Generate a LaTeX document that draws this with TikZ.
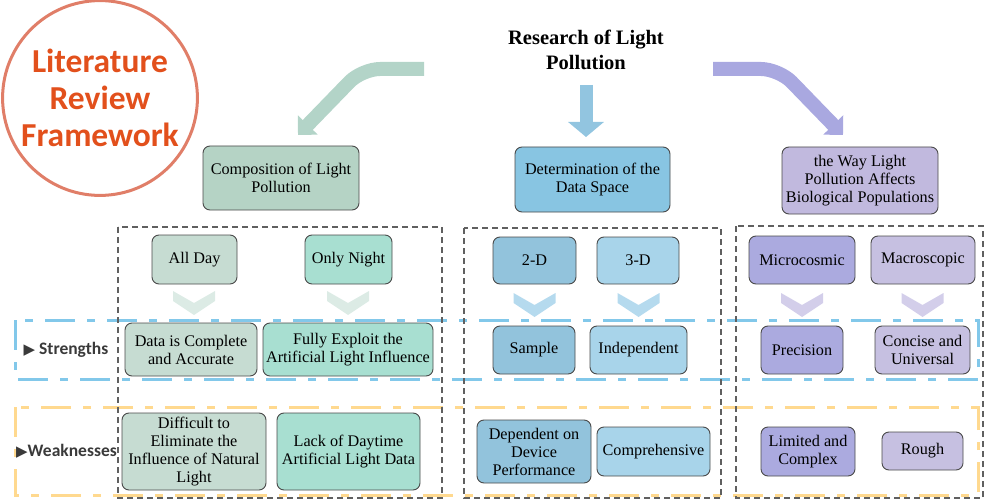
\documentclass[tikz,border=0pt]{standalone}
\usepackage{fontspec}
\setmainfont{Liberation Serif}
\newfontfamily\carl{Carlito}
\newfontfamily\djv{DejaVu Sans}
\usetikzlibrary{arrows.meta}
\definecolor{boxline}{HTML}{4A4A4A}
\definecolor{dashgray}{HTML}{606060}
\definecolor{circline}{HTML}{E07E68}
\definecolor{circtext}{HTML}{E2501C}
\definecolor{bandblue}{HTML}{82C8EA}
\definecolor{bandorange}{HTML}{FFD98F}
\definecolor{arrgreen}{HTML}{B3D4C8}
\definecolor{arrblue}{HTML}{92C5E0}
\definecolor{arrpurple}{HTML}{A9A8E0}
\definecolor{compfill}{HTML}{B5D3C5}
\definecolor{sage}{HTML}{C6DCD2}
\definecolor{mint}{HTML}{A8DFD1}
\definecolor{detfill}{HTML}{88C5E2}
\definecolor{blueA}{HTML}{92C3DC}
\definecolor{blueB}{HTML}{A8D4EA}
\definecolor{wayfill}{HTML}{C1B9DE}
\definecolor{purA}{HTML}{ABAADF}
\definecolor{purB}{HTML}{C6C0E1}
\definecolor{chevgreen}{HTML}{DCEBE5}
\definecolor{chevblue}{HTML}{B5DAEE}
\definecolor{chevpurple}{HTML}{D3CEEA}
\definecolor{labeltext}{HTML}{3A3A3A}
\tikzset{
  bx/.style={draw=boxline, line width=0.9pt, rounded corners=7pt, align=center,
    inner sep=1pt, font=\fontsize{16.2}{18}\selectfont, text=black},
  dbox/.style={draw=dashgray, line width=1.1pt, dash pattern=on 6pt off 4pt},
  band/.style={line width=3pt, dash pattern=on 30pt off 12pt on 8pt off 12pt},
  bigarrow/.style={line width=14pt, rounded corners=18pt,
    -{Triangle[width=27pt,length=14pt]}},
  sidelabel/.style={font=\carl\bfseries\fontsize{17.5}{19}\selectfont, text=labeltext}
}
\newcommand{\chevron}[3]{%
  \fill[#3] ({#1-21},{#2}) -- ({#1},{#2+12}) -- ({#1+21},{#2}) -- ({#1+21},{#2+10})
    -- ({#1},{#2+24}) -- ({#1-21},{#2+10}) -- cycle;}
\begin{document}
\begin{tikzpicture}[x=1pt,y=-1pt]
\useasboundingbox (0,0) rectangle (985,500);

% bands
\draw[band, draw=bandblue] (15,320) rectangle (978,379);
\draw[band, draw=bandorange] (15,407) rectangle (978,495);

% dashed group boxes
\draw[dbox] (118,227) rectangle (442,498);
\draw[dbox] (464,228) rectangle (721,498);
\draw[dbox] (736,226) rectangle (983,498);

% circle
\node[circle, draw=circline, line width=3pt, minimum size=193pt, align=center,
  text=circtext, font=\carl\bfseries\fontsize{33.5}{37}\selectfont] (lrf) at (100,98)
  {Literature\\Review\\Framework};

% title
\node[align=center, font=\bfseries\fontsize{20.5}{25}\selectfont] (title) at (586,50)
  {Research of Light\\Pollution};

% top boxes
\node[bx, fill=compfill, minimum width=156pt, minimum height=64pt] (comp) at (281,178)
  {Composition of Light\\Pollution};
\node[bx, fill=detfill, minimum width=155pt, minimum height=65pt] (det) at (592.5,179.5)
  {Determination of the\\Data Space};
\node[bx, fill=wayfill, minimum width=156pt, minimum height=67pt] (way) at (860,180.5)
  {the Way Light\\Pollution Affects\\Biological Populations};

% big arrows
\coordinate (la) at (424,69);
\coordinate (lb) at (362,69);
\coordinate (lc) at (298,135);
\draw[bigarrow, draw=arrgreen] (la) -- (lb) -- (lc);
\coordinate (ma) at (586,85);
\coordinate (mc) at (586,137);
\draw[line width=13pt, draw=arrblue, -{Triangle[width=35pt,length=15pt]}] (ma) -- (mc);
\coordinate (ra) at (713,69);
\coordinate (rb) at (779,69);
\coordinate (rc) at (843,135);
\draw[bigarrow, draw=arrpurple] (ra) -- (rb) -- (rc);

% left column
\node[bx, fill=sage, minimum width=85pt, minimum height=49pt] (allday) at (194.5,259.5) {All Day};
\node[bx, fill=mint, minimum width=87pt, minimum height=49pt] (night) at (348.5,259.5) {Only Night};
\node[bx, fill=sage, minimum width=132pt, minimum height=53pt] (data) at (191,349.5) {Data is Complete\\and Accurate};
\node[bx, fill=mint, minimum width=170pt, minimum height=53pt] (fully) at (348,349.5) {Fully Exploit the\\Artificial Light Influence};
\node[bx, fill=sage, minimum width=144pt, minimum height=77pt] (diff) at (194,451.5) {Difficult to\\Eliminate the\\Influence of Natural\\Light};
\node[bx, fill=mint, minimum width=143pt, minimum height=77pt] (lack) at (348.5,451.5) {Lack of Daytime\\Artificial Light Data};
\chevron{194}{291}{chevgreen}
\chevron{348}{291}{chevgreen}

% middle column
\node[bx, fill=blueA, minimum width=83pt, minimum height=47pt] (twod) at (534.5,260.5) {2-D};
\node[bx, fill=blueB, minimum width=82pt, minimum height=47pt] (threed) at (638,260.5) {3-D};
\node[bx, fill=blueA, minimum width=82pt, minimum height=48pt] (sample) at (534,350) {Sample};
\node[bx, fill=blueB, minimum width=97pt, minimum height=48pt] (indep) at (638.5,350) {Independent};
\node[bx, fill=blueA, minimum width=114pt, minimum height=63pt] (dep) at (534,451.5) {Dependent on\\Device\\Performance};
\node[bx, fill=blueB, minimum width=113pt, minimum height=49pt] (compr) at (653.5,451.5) {Comprehensive};
\chevron{534.5}{293}{chevblue}
\chevron{638.5}{293}{chevblue}

% right column
\node[bx, fill=purA, minimum width=106pt, minimum height=48pt] (micro) at (802,260) {Microcosmic};
\node[bx, fill=purB, minimum width=104pt, minimum height=48pt] (macro) at (923,260) {Macroscopic};
\node[bx, fill=purA, minimum width=82pt, minimum height=48pt] (prec) at (802,350) {Precision};
\node[bx, fill=purB, minimum width=95pt, minimum height=48pt] (conc) at (922.5,350) {Concise and\\Universal};
\node[bx, fill=purA, minimum width=94pt, minimum height=49pt] (lim) at (808,451.5) {Limited and\\Complex};
\node[bx, fill=purB, minimum width=81pt, minimum height=38pt] (rough) at (922.5,451) {Rough};
\chevron{802}{293}{chevpurple}
\chevron{922.5}{293}{chevpurple}

% side labels
\node[sidelabel] (str) at (66,350) {{\djv\fontsize{15}{17}\selectfont ▶} Strengths};
\node[sidelabel] (weak) at (66.5,451) {{\djv\fontsize{15}{17}\selectfont ▶}Weaknesses};
\end{tikzpicture}
\end{document}
